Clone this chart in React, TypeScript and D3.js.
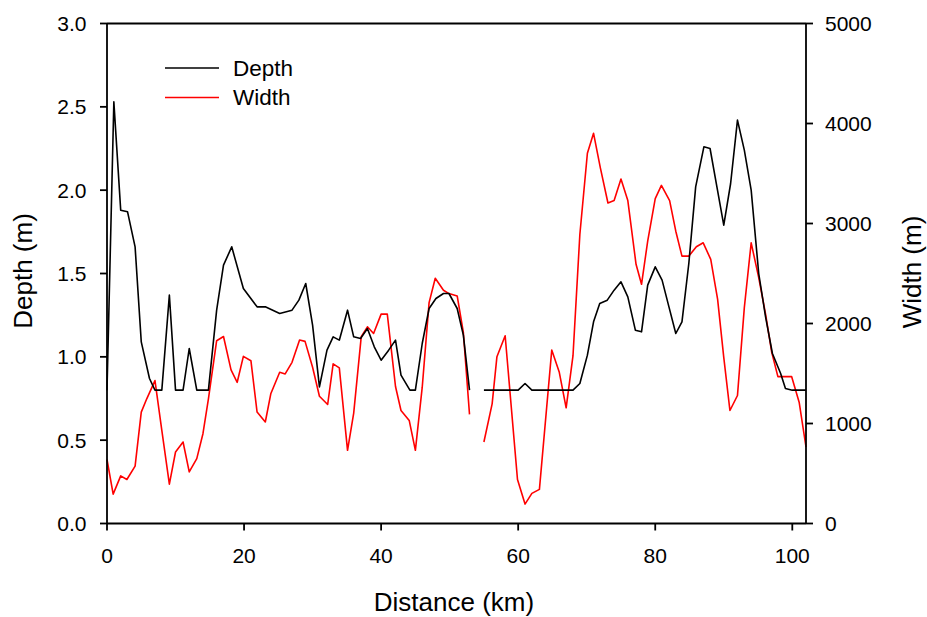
import React from "react";
import * as d3 from "d3";

// Distance (km) and depth (m); null marks the gap in the survey
const depthDistance = [
  0, 1.0, 2.0, 3.0, 4.1, 5.0, 6.2, 7.0, 8.0, 9.1, 10.0, 11.1, 12.0, 13.1, 14.8, 16.0, 17.0, 18.2, 19.9,
  21.9, 23.1, 25.2, 27.0, 28.0, 29.0, 30.0, 31.0, 32.1, 33.0, 33.9, 35.1, 36.0, 37.0, 38.0, 39.0, 40.0,
  41.1, 42.1, 42.9, 44.2, 45.0, 46.0, 47.0, 48.0, 49.1, 49.9, 51.1, 52.0, 52.9,
  54.0,
  55.0, 60.0, 61.0, 62.0, 68.0, 69.0, 70.1, 71.0, 71.9, 73.0, 74.0, 75.0, 76.0, 77.1, 78.0, 78.9, 80.0,
  81.0, 82.0, 83.0, 83.9, 84.9, 85.9, 87.1, 88.0, 89.0, 90.0, 91.0, 92.0, 93.0, 94.0, 95.1, 96.1, 97.1,
  98.3, 99.0, 100.0, 102.0,
];
const depthValues: (number | null)[] = [
  0.8, 2.53, 1.88, 1.87, 1.66, 1.09, 0.87, 0.8, 0.8, 1.37, 0.8, 0.8, 1.05, 0.8, 0.8, 1.28, 1.55, 1.66, 1.41,
  1.3, 1.3, 1.26, 1.28, 1.34, 1.44, 1.19, 0.82, 1.04, 1.12, 1.1, 1.28, 1.12, 1.11, 1.17, 1.06, 0.98,
  1.04, 1.1, 0.89, 0.8, 0.8, 1.08, 1.29, 1.35, 1.38, 1.38, 1.29, 1.13, 0.8,
  null,
  0.8, 0.8, 0.84, 0.8, 0.8, 0.84, 1.01, 1.21, 1.32, 1.34, 1.4, 1.45, 1.36, 1.16, 1.15, 1.43, 1.54,
  1.46, 1.3, 1.14, 1.21, 1.56, 2.02, 2.26, 2.25, 2.02, 1.79, 2.04, 2.42, 2.24, 2.0, 1.5, 1.24, 1.02,
  0.9, 0.81, 0.8, 0.8,
];

// Distance (km) and width (m)
const widthDistance = [
  0, 0.9, 2.0, 2.9, 4.1, 5.0, 5.8, 7.0, 8.0, 9.1, 10.0, 11.1, 12.0, 13.1, 14.0, 14.8, 16.0, 17.0, 18.1,
  19.0, 19.9, 21.0, 21.9, 23.1, 23.9, 25.2, 26.0, 27.0, 28.1, 28.9, 30.0, 31.0, 32.2, 33.0, 33.9, 35.1,
  36.0, 37.1, 38.0, 38.9, 40.0, 40.9, 42.1, 42.9, 44.1, 45.0, 46.0, 47.0, 47.9, 49.1, 49.9, 51.1, 52.0, 52.9,
  54.0,
  55.0, 56.2, 56.9, 58.1, 59.9, 61.0, 62.0, 63.1, 64.9, 66.0, 67.0, 68.0, 69.0, 70.1, 71.0, 72.0, 73.1,
  74.0, 75.0, 76.0, 77.2, 78.0, 78.9, 80.0, 80.9, 82.1, 83.0, 83.9, 84.9, 86.0, 87.0, 88.1, 89.1, 90.0,
  90.9, 92.0, 93.0, 94.0, 95.1, 96.1, 97.0, 97.9, 99.9, 101.0, 102.0,
];
const widthValues: (number | null)[] = [
  640, 294, 476, 440, 573, 1114, 1247, 1429, 931, 393, 715, 815, 516, 649, 898, 1247, 1828, 1870, 1536,
  1412, 1671, 1628, 1114, 1015, 1297, 1512, 1496, 1612, 1835, 1821, 1562, 1273, 1190, 1596, 1556, 732,
  1104, 1868, 1967, 1900, 2094, 2094, 1370, 1130, 1031, 732, 1363, 2209, 2452, 2333, 2299, 2276, 1910, 1091,
  null,
  815, 1197, 1668, 1877, 440, 194, 301, 341, 1735, 1512, 1157, 1678, 2890, 3703, 3902, 3554, 3205,
  3229, 3444, 3229, 2592, 2392, 2824, 3249, 3381, 3229, 2923, 2674, 2674, 2767, 2807, 2641, 2243, 1661,
  1130, 1280, 2159, 2807, 2458, 2094, 1711, 1469, 1469, 1213, 765,
];

const xTicks = [0, 20, 40, 60, 80, 100];
const depthTicks = [0, 0.5, 1.0, 1.5, 2.0, 2.5, 3.0];
const widthTicks = [0, 1000, 2000, 3000, 4000, 5000];
const seriesNames = ["Depth", "Width"];
const seriesColors = ["#000000", "#ff0000"];

const W = 927;
const H = 617;
const M = { left: 107, right: 806, top: 23.5, bottom: 523.5 };
const FONT = "'Liberation Sans', Arial, Helvetica, sans-serif";

export default function App() {
  const x = d3.scaleLinear().domain([0, 102]).range([M.left, M.right]);
  const yL = d3.scaleLinear().domain([0, 3]).range([M.bottom, M.top]);
  const yR = d3.scaleLinear().domain([0, 5000]).range([M.bottom, M.top]);

  const depthPts = depthDistance.map((d, i) => [d, depthValues[i]] as [number, number | null]);
  const widthPts = widthDistance.map((d, i) => [d, widthValues[i]] as [number, number | null]);

  const depthLine = d3
    .line<[number, number | null]>()
    .defined((d) => d[1] !== null)
    .x((d) => x(d[0]))
    .y((d) => yL(d[1] as number));
  const widthLine = d3
    .line<[number, number | null]>()
    .defined((d) => d[1] !== null)
    .x((d) => x(d[0]))
    .y((d) => yR(d[1] as number));

  const tickFs = 21;
  const sw = 1.8;

  return (
    <svg
      width={W}
      height={H}
      style={{ position: "absolute", left: 0, top: 0, background: "#fff" }}
      fontFamily={FONT}
    >
      <rect x={0} y={0} width={W} height={H} fill="#fff" />
      {/* data */}
      <path d={widthLine(widthPts) || ""} fill="none" stroke={seriesColors[1]} strokeWidth={1.6} strokeLinejoin="round" />
      <path d={depthLine(depthPts) || ""} fill="none" stroke={seriesColors[0]} strokeWidth={1.6} strokeLinejoin="round" />

      {/* frame */}
      <line x1={M.left} x2={M.right} y1={M.top} y2={M.top} stroke="#000" strokeWidth={sw} />
      <line x1={M.left} x2={M.right} y1={M.bottom} y2={M.bottom} stroke="#000" strokeWidth={sw} />
      <line x1={M.left} x2={M.left} y1={M.top} y2={M.bottom} stroke="#000" strokeWidth={sw} />
      <line x1={M.right} x2={M.right} y1={M.top} y2={M.bottom} stroke="#000" strokeWidth={sw} />

      {/* x ticks */}
      {xTicks.map((t) => (
        <g key={"x" + t}>
          <line x1={x(t)} x2={x(t)} y1={M.bottom} y2={M.bottom + 7} stroke="#000" strokeWidth={sw} />
          <text x={x(t)} y={M.bottom + 39} textAnchor="middle" fontSize={tickFs} fill="#000">
            {t}
          </text>
        </g>
      ))}
      {/* left ticks */}
      {depthTicks.map((t) => (
        <g key={"l" + t}>
          <line x1={M.left - 7} x2={M.left} y1={yL(t)} y2={yL(t)} stroke="#000" strokeWidth={sw} />
          <text x={86.5} y={yL(t)} dy="0.35em" textAnchor="end" fontSize={tickFs} fill="#000">
            {t.toFixed(1)}
          </text>
        </g>
      ))}
      {/* right ticks */}
      {widthTicks.map((t) => (
        <g key={"r" + t}>
          <line x1={M.right} x2={M.right + 7} y1={yR(t)} y2={yR(t)} stroke="#000" strokeWidth={sw} />
          <text x={825} y={yR(t)} dy="0.35em" textAnchor="start" fontSize={tickFs} fill="#000">
            {t}
          </text>
        </g>
      ))}

      {/* axis titles */}
      <text x={454} y={611} textAnchor="middle" fontSize={26} fill="#000">
        Distance (km)
      </text>
      <text transform="translate(32,271) rotate(-90)" textAnchor="middle" fontSize={26} fill="#000">
        Depth (m)
      </text>
      <text transform="translate(921,272) rotate(-90)" textAnchor="middle" fontSize={26} fill="#000">
        Width (m)
      </text>

      {/* legend */}
      {seriesNames.map((n, i) => (
        <g key={n}>
          <line x1={165} x2={219} y1={68 + i * 29.5} y2={68 + i * 29.5} stroke={seriesColors[i]} strokeWidth={1.6} />
          <text x={233} y={68 + i * 29.5} dy="0.35em" fontSize={22.5} fill="#000">
            {n}
          </text>
        </g>
      ))}
    </svg>
  );
}
